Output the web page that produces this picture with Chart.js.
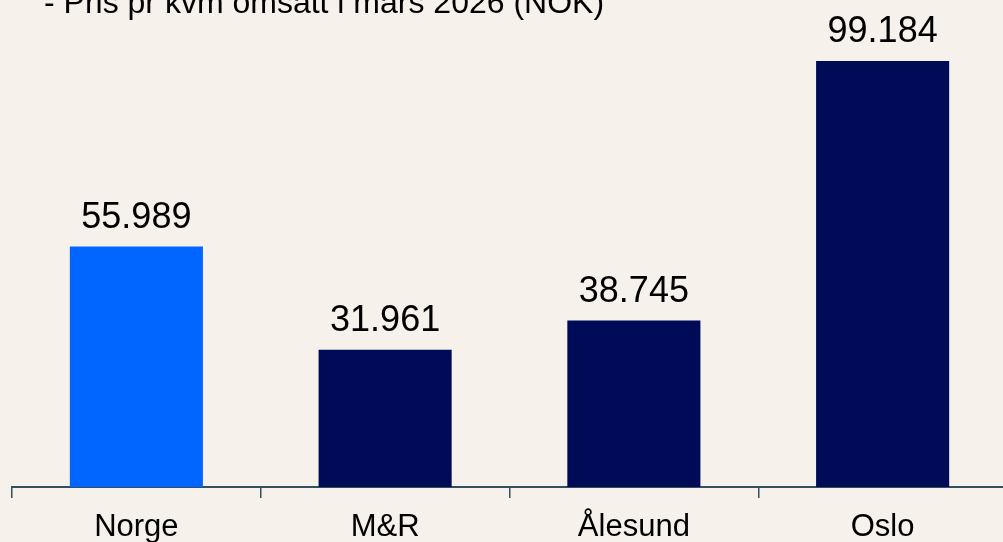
<!DOCTYPE html>
<html>
<head>
<meta charset="utf-8">
<script src="https://cdn.jsdelivr.net/npm/chart.js@4.4.1/dist/chart.umd.min.js"></script>
<style>
  html, body { margin: 0; padding: 0; background: #f6f1ea; overflow: hidden; }
  #wrap { width: 1008px; height: 542px; position: relative; }
</style>
</head>
<body>
<div id="wrap"><canvas id="myChart"></canvas></div>
<script>
const title = "- Pris pr kvm omsatt i mars 2026 (NOK)";
const categories = ["Norge", "M&R", "Ålesund", "Oslo"];
const prices = [55989, 31961, 38745, 99184];
const barColors = ["#0066ff", "#000b57", "#000b57", "#000b57"];

const FONT = "'Liberation Sans', Arial, sans-serif";
const axisColor = "#34505e";

const formatNok = (v) => v.toString().replace(/\B(?=(\d{3})+(?!\d))/g, ".");

// title and value labels drawn straight on the canvas
const labelsPlugin = {
  id: "labels",
  afterDatasetsDraw(chart) {
    const ctx = chart.ctx;
    ctx.save();
    ctx.fillStyle = "#000000";
    ctx.font = "32px " + FONT;
    ctx.textAlign = "left";
    ctx.textBaseline = "alphabetic";
    ctx.fillText(title, 44, 13);

    ctx.font = "36px " + FONT;
    ctx.textAlign = "center";
    const meta = chart.getDatasetMeta(0);
    meta.data.forEach((bar, i) => {
      ctx.fillText(formatNok(prices[i]), bar.x, bar.y - 19);
    });
    ctx.restore();
  },
};

const ctx = document.getElementById("myChart").getContext("2d");
new Chart(ctx, {
  type: "bar",
  data: {
    labels: categories,
    datasets: [
      {
        data: prices,
        backgroundColor: barColors,
        borderWidth: 0,
        categoryPercentage: 1,
        barPercentage: 0.535,
      },
    ],
  },
  options: {
    responsive: true,
    maintainAspectRatio: false,
    animation: false,
    layout: { padding: { left: 12, right: 1, top: 0, bottom: 0 } },
    plugins: {
      legend: { display: false },
      tooltip: { enabled: false },
    },
    scales: {
      x: {
        afterFit: (scale) => { scale.height = 55; },
        border: { display: true, color: axisColor, width: 2 },
        grid: {
          offset: true,
          drawOnChartArea: false,
          drawTicks: true,
          tickLength: 11,
          color: axisColor,
          lineWidth: 1.5,
        },
        ticks: {
          color: "#000000",
          font: { family: FONT, size: 31 },
          padding: 11,
          maxRotation: 0,
        },
      },
      y: {
        display: false,
        min: 0,
        max: 113400,
      },
    },
  },
  plugins: [labelsPlugin],
});
</script>
</body>
</html>
